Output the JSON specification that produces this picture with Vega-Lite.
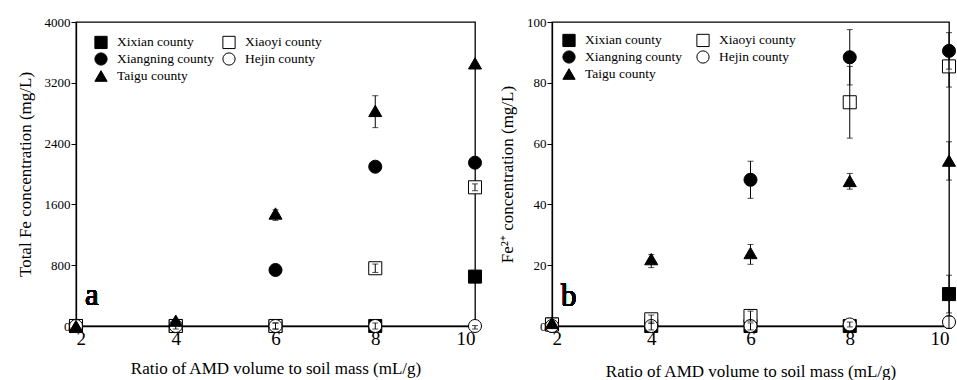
{
  "$schema": "https://vega.github.io/schema/vega-lite/v6.json",
  "padding": {"left": 15, "top": 15, "right": 2, "bottom": 0},
  "background": "white",
  "config": {
    "font": "Liberation Serif",
    "view": {"stroke": "black", "strokeWidth": 1.3},
    "axis": {
      "grid": false,
      "domainColor": "black",
      "domainWidth": 1.3,
      "tickColor": "black",
      "labelColor": "black",
      "titleColor": "black",
      "labelFont": "Liberation Serif",
      "titleFont": "Liberation Serif",
      "titleFontWeight": "normal",
      "titleFontSize": 17,
      "format": "d"
    },
    "axisX": {"ticks": false, "labelFontSize": 19, "labelPadding": 3, "titlePadding": 12},
    "axisY": {"tickSize": 5, "labelFontSize": 13, "labelPadding": 1, "titlePadding": 10},
    "legend": {
      "orient": "none",
      "columns": 2,
      "direction": "vertical",
      "gridAlign": "all",
      "padding": 0,
      "labelFont": "Liberation Serif",
      "labelFontSize": 13.5,
      "labelColor": "black",
      "labelOffset": 9,
      "labelLimit": 300,
      "rowPadding": -1,
      "columnPadding": 5,
      "symbolSize": 150,
      "symbolStrokeColor": "black",
      "symbolStrokeWidth": 1,
      "symbolOpacity": 1,
      "title": null
    }
  },
  "datasets": {
    "totalFe": [
      {"ratio": 2, "county": "Xixian county", "value": 0, "lo": 0, "hi": 0},
      {"ratio": 4, "county": "Xixian county", "value": 0, "lo": 0, "hi": 0},
      {"ratio": 6, "county": "Xixian county", "value": 0, "lo": 0, "hi": 0},
      {"ratio": 8, "county": "Xixian county", "value": 0, "lo": 0, "hi": 0},
      {"ratio": 10, "county": "Xixian county", "value": 650, "lo": 650, "hi": 650},
      {"ratio": 2, "county": "Xiangning county", "value": 0, "lo": 0, "hi": 0},
      {"ratio": 4, "county": "Xiangning county", "value": 0, "lo": 0, "hi": 0},
      {"ratio": 6, "county": "Xiangning county", "value": 737, "lo": 737, "hi": 737},
      {"ratio": 8, "county": "Xiangning county", "value": 2096, "lo": 2096, "hi": 2096},
      {"ratio": 10, "county": "Xiangning county", "value": 2149, "lo": 2149, "hi": 2149},
      {"ratio": 2, "county": "Xiaoyi county", "value": 0, "lo": 0, "hi": 0},
      {"ratio": 4, "county": "Xiaoyi county", "value": 0, "lo": 0, "hi": 0},
      {"ratio": 6, "county": "Xiaoyi county", "value": 0, "lo": -40, "hi": 40},
      {"ratio": 8, "county": "Xiaoyi county", "value": 760, "lo": 705, "hi": 815},
      {"ratio": 10, "county": "Xiaoyi county", "value": 1825, "lo": 1780, "hi": 1870},
      {"ratio": 2, "county": "Hejin county", "value": 0, "lo": 0, "hi": 0},
      {"ratio": 4, "county": "Hejin county", "value": 0, "lo": -40, "hi": 40},
      {"ratio": 6, "county": "Hejin county", "value": 0, "lo": -40, "hi": 40},
      {"ratio": 8, "county": "Hejin county", "value": 0, "lo": -40, "hi": 40},
      {"ratio": 10, "county": "Hejin county", "value": 0, "lo": -40, "hi": 5},
      {"ratio": 2, "county": "Taigu county", "value": 0, "lo": 0, "hi": 0},
      {"ratio": 4, "county": "Taigu county", "value": 70, "lo": 70, "hi": 70},
      {"ratio": 6, "county": "Taigu county", "value": 1480, "lo": 1390, "hi": 1530},
      {"ratio": 8, "county": "Taigu county", "value": 2830, "lo": 2610, "hi": 3030},
      {"ratio": 10, "county": "Taigu county", "value": 3456, "lo": 3456, "hi": 3456}
    ],
    "fe2": [
      {"ratio": 2, "county": "Xixian county", "value": 0.5, "lo": 0.5, "hi": 0.5},
      {"ratio": 4, "county": "Xixian county", "value": 0, "lo": 0, "hi": 0},
      {"ratio": 6, "county": "Xixian county", "value": 0, "lo": 0, "hi": 0},
      {"ratio": 8, "county": "Xixian county", "value": 0, "lo": 0, "hi": 0},
      {"ratio": 10, "county": "Xixian county", "value": 10.5, "lo": 4.3, "hi": 16.7},
      {"ratio": 2, "county": "Xiangning county", "value": 0, "lo": 0, "hi": 0},
      {"ratio": 4, "county": "Xiangning county", "value": 0, "lo": 0, "hi": 0},
      {"ratio": 6, "county": "Xiangning county", "value": 48.1, "lo": 42, "hi": 54.2},
      {"ratio": 8, "county": "Xiangning county", "value": 88.4, "lo": 79.3, "hi": 97.5},
      {"ratio": 10, "county": "Xiangning county", "value": 90.5, "lo": 84.5, "hi": 96.5},
      {"ratio": 2, "county": "Xiaoyi county", "value": 0.5, "lo": 0.5, "hi": 0.5},
      {"ratio": 4, "county": "Xiaoyi county", "value": 2.2, "lo": 0.8, "hi": 3.6},
      {"ratio": 6, "county": "Xiaoyi county", "value": 3.3, "lo": 1.6, "hi": 4.9},
      {"ratio": 8, "county": "Xiaoyi county", "value": 73.6, "lo": 61.8, "hi": 85.4},
      {"ratio": 10, "county": "Xiaoyi county", "value": 85.4, "lo": 78.6, "hi": 92.2},
      {"ratio": 2, "county": "Hejin county", "value": 0, "lo": 0, "hi": 0},
      {"ratio": 4, "county": "Hejin county", "value": 0, "lo": -1.3, "hi": 1.3},
      {"ratio": 6, "county": "Hejin county", "value": 0, "lo": -1.3, "hi": 1},
      {"ratio": 8, "county": "Hejin county", "value": 0.5, "lo": -0.3, "hi": 1.3},
      {"ratio": 10, "county": "Hejin county", "value": 1.3, "lo": -0.8, "hi": 3.2},
      {"ratio": 2, "county": "Taigu county", "value": 1, "lo": 1, "hi": 1},
      {"ratio": 4, "county": "Taigu county", "value": 22, "lo": 19.2, "hi": 23.5},
      {"ratio": 6, "county": "Taigu county", "value": 24, "lo": 20.3, "hi": 26.8},
      {"ratio": 8, "county": "Taigu county", "value": 47.7, "lo": 45, "hi": 50.2},
      {"ratio": 10, "county": "Taigu county", "value": 54.4, "lo": 48, "hi": 60.6}
    ]
  },
  "hconcat": [
    {
      "width": 399,
      "height": 304,
      "data": {"name": "totalFe"},
      "layer": [
        {
          "mark": {"type": "point", "filled": true, "size": 170, "stroke": "black", "strokeWidth": 1, "opacity": 1, "clip": false},
          "encoding": {
            "x": {"field": "ratio", "type": "quantitative", "title": "Ratio of AMD volume to soil mass (mL/g)", "scale": {"domain": [2, 10], "nice": false}, "axis": {"values": [2, 4, 6, 8, 10]}},
            "y": {"field": "value", "type": "quantitative", "title": "Total Fe concentration (mg/L)", "scale": {"domain": [0, 4000], "nice": false}, "axis": {"values": [0, 800, 1600, 2400, 3200, 4000]}},
            "shape": {"field": "county", "type": "nominal", "sort": null, "scale": {"domain": ["Xixian county", "Xiangning county", "Taigu county", "Xiaoyi county", "Hejin county"], "range": ["square", "circle", "triangle-up", "square", "circle"]}, "legend": {"legendX": 18, "legendY": 13, "symbolStrokeColor": "black", "encode": {"symbols": {"update": {"stroke": {"value": "black"}, "strokeWidth": {"value": 1}, "opacity": {"value": 1}}}}}},
            "fill": {"field": "county", "type": "nominal", "sort": null, "scale": {"domain": ["Xixian county", "Xiangning county", "Taigu county", "Xiaoyi county", "Hejin county"], "range": ["black", "black", "black", "white", "white"]}, "legend": {"legendX": 18, "legendY": 13, "symbolStrokeColor": "black", "encode": {"symbols": {"update": {"stroke": {"value": "black"}, "strokeWidth": {"value": 1}, "opacity": {"value": 1}}}}}}
          }
        },
        {
          "transform": [{"filter": "datum.hi > datum.lo"}],
          "mark": {"type": "errorbar", "ticks": {"size": 6, "color": "black", "strokeWidth": 1}, "rule": {"color": "black", "strokeWidth": 1}, "clip": false},
          "encoding": {
            "x": {"field": "ratio", "type": "quantitative", "title": "Ratio of AMD volume to soil mass (mL/g)"},
            "y": {"field": "lo", "type": "quantitative", "title": "Total Fe concentration (mg/L)"},
            "y2": {"field": "hi"}
          }
        },
        {
          "mark": {"type": "text", "text": "a", "fontSize": 31, "font": "Liberation Serif", "fontWeight": "normal", "fill": "black", "baseline": "alphabetic", "align": "center"},
          "encoding": {
            "x": {"datum": 2.32, "type": "quantitative"},
            "y": {"datum": 276, "type": "quantitative"}
          }
        }
      ]
    },
    {
      "width": 397,
      "height": 304,
      "data": {"name": "fe2"},
      "layer": [
        {
          "mark": {"type": "point", "filled": true, "size": 170, "stroke": "black", "strokeWidth": 1, "opacity": 1, "clip": false},
          "encoding": {
            "x": {"field": "ratio", "type": "quantitative", "title": "Ratio of AMD volume to soil mass (mL/g)", "scale": {"domain": [2, 10], "nice": false}, "axis": {"values": [2, 4, 6, 8, 10], "titlePadding": 15}},
            "y": {"field": "value", "type": "quantitative", "title": "Fe²⁺ concentration (mg/L)", "scale": {"domain": [0, 100], "nice": false}, "axis": {"values": [0, 20, 40, 60, 80, 100]}},
            "shape": {"field": "county", "type": "nominal", "sort": null, "scale": {"domain": ["Xixian county", "Xiangning county", "Taigu county", "Xiaoyi county", "Hejin county"], "range": ["square", "circle", "triangle-up", "square", "circle"]}, "legend": {"legendX": 10, "legendY": 11, "columnPadding": 11, "symbolStrokeColor": "black", "encode": {"symbols": {"update": {"stroke": {"value": "black"}, "strokeWidth": {"value": 1}, "opacity": {"value": 1}}}}}},
            "fill": {"field": "county", "type": "nominal", "sort": null, "scale": {"domain": ["Xixian county", "Xiangning county", "Taigu county", "Xiaoyi county", "Hejin county"], "range": ["black", "black", "black", "white", "white"]}, "legend": {"legendX": 10, "legendY": 11, "columnPadding": 11, "symbolStrokeColor": "black", "encode": {"symbols": {"update": {"stroke": {"value": "black"}, "strokeWidth": {"value": 1}, "opacity": {"value": 1}}}}}}
          }
        },
        {
          "transform": [{"filter": "datum.hi > datum.lo"}],
          "mark": {"type": "errorbar", "ticks": {"size": 6, "color": "black", "strokeWidth": 1}, "rule": {"color": "black", "strokeWidth": 1}, "clip": false},
          "encoding": {
            "x": {"field": "ratio", "type": "quantitative", "title": "Ratio of AMD volume to soil mass (mL/g)"},
            "y": {"field": "lo", "type": "quantitative", "title": "Fe²⁺ concentration (mg/L)"},
            "y2": {"field": "hi"}
          }
        },
        {
          "mark": {"type": "text", "text": "b", "fontSize": 31, "font": "Liberation Serif", "fontWeight": "normal", "fill": "black", "baseline": "alphabetic", "align": "center"},
          "encoding": {
            "x": {"datum": 2.34, "type": "quantitative"},
            "y": {"datum": 6.6, "type": "quantitative"}
          }
        }
      ]
    }
  ],
  "spacing": 12,
  "resolve": {
    "scale": {"x": "independent", "y": "independent", "shape": "independent", "fill": "independent"},
    "legend": {"shape": "independent", "fill": "independent"}
  }
}
